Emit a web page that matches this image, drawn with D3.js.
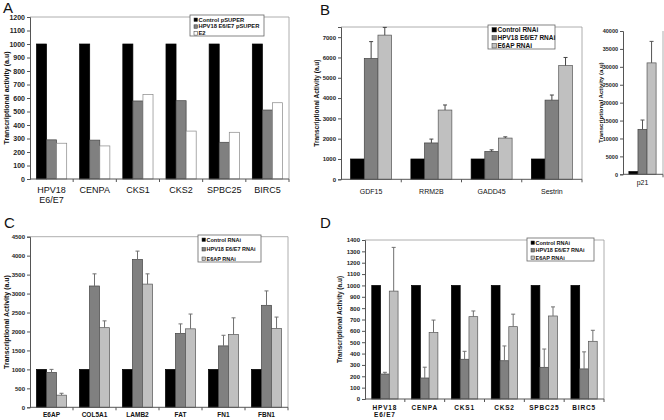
<!DOCTYPE html>
<html>
<head>
<meta charset="utf-8">
<script src="https://cdn.jsdelivr.net/npm/d3@7"></script>
<style>
  body { margin: 0; background: #fff; }
  svg { font-family: "Liberation Sans", Arial, sans-serif; }
</style>
</head>
<body>
<div id="fig"></div>
<script>
// ---- data ----
var aCats = ["HPV18\nE6/E7", "CENPA", "CKS1", "CKS2", "SPBC25", "BIRC5"];
var aSeries = ["Control pSUPER", "HPV18 E6/E7 pSUPER", "E2"];
var aControl = [1000, 1000, 1000, 1000, 1000, 1000];
var aE6E7 = [290, 288, 578, 580, 272, 511];
var aE2 = [265, 245, 627, 355, 346, 565];
var aTicks = [0, 100, 200, 300, 400, 500, 600, 700, 800, 900, 1000, 1100, 1200];

var rnaiSeries = ["Control RNAi", "HPV18 E6/E7 RNAi", "E6AP RNAi"];

var bCats = ["GDF15", "RRM2B", "GADD45", "Sestrin"];
var bControl = [1000, 1000, 1000, 1000];
var bE6E7 = [5950, 1790, 1370, 3900];
var bE6E7Err = [830, 190, 80, 250];
var bE6AP = [7100, 3410, 2030, 5600];
var bE6APErr = [380, 250, 60, 400];
var bTicks = [0, 1000, 2000, 3000, 4000, 5000, 6000, 7000];

var pCats = ["p21"];
var pControl = [750];
var pE6E7 = [12550];
var pE6E7Err = [2600];
var pE6AP = [31100];
var pE6APErr = [6000];
var pTicks = [0, 5000, 10000, 15000, 20000, 25000, 30000, 35000, 40000];

var cCats = ["E6AP", "COL5A1", "LAMB2", "FAT", "FN1", "FBN1"];
var cControl = [1000, 1000, 1000, 1000, 1000, 1000];
var cE6E7 = [920, 3200, 3900, 1950, 1620, 2690];
var cE6E7Err = [80, 320, 220, 250, 280, 380];
var cE6AP = [320, 2100, 3250, 2070, 1920, 2080];
var cE6APErr = [50, 180, 270, 390, 440, 300];
var cTicks = [0, 500, 1000, 1500, 2000, 2500, 3000, 3500, 4000, 4500];

var dCats = ["HPV18\nE6/E7", "CENPA", "CKS1", "CKS2", "SPBC25", "BIRC5"];
var dControl = [1000, 1000, 1000, 1000, 1000, 1000];
var dE6E7 = [220, 185, 350, 337, 279, 265];
var dE6E7Err = [15, 95, 70, 130, 161, 150];
var dE6AP = [950, 585, 725, 637, 731, 508];
var dE6APErr = [385, 110, 50, 110, 80, 97];
var dTicks = [0, 100, 200, 300, 400, 500, 600, 700, 800, 900, 1000, 1100, 1200, 1300, 1400];

var svg = d3.select("#fig").append("svg")
    .attr("width", 664)
    .attr("height", 420);

svg.append("rect").attr("width", 664).attr("height", 420).attr("fill", "#fff");

function drawPanel(cfg) {
  var g = svg.append("g");
  var x = d3.scaleBand().domain(cfg.cats).range([cfg.x0, cfg.x1]);
  var y = d3.scaleLinear().domain([0, cfg.max]).range([cfg.yBot, cfg.yTop]);
  var gw = x.bandwidth() * cfg.frac;
  var inner = d3.scaleBand().domain(d3.range(cfg.series.length)).range([0, gw]);
  var off = (x.bandwidth() - gw) / 2 + (cfg.shift || 0);

  // frame lines
  g.append("line").attr("x1", cfg.x0).attr("x2", cfg.x1).attr("y1", cfg.yTop).attr("y2", cfg.yTop)
    .attr("stroke", cfg.noTop ? "none" : "#999").attr("stroke-width", 0.8);
  g.append("line").attr("x1", cfg.x1).attr("x2", cfg.x1).attr("y1", cfg.yTop).attr("y2", cfg.yBot)
    .attr("stroke", "#999").attr("stroke-width", 0.8);

  // bars
  cfg.series.forEach(function (s, si) {
    g.selectAll(null).data(s.vals).enter().append("rect")
      .attr("x", function (d, i) { return x(cfg.cats[i]) + off + inner(si); })
      .attr("y", function (d) { return y(d); })
      .attr("width", inner.bandwidth())
      .attr("height", function (d) { return cfg.yBot - y(d); })
      .attr("fill", s.fill)
      .attr("stroke", s.stroke)
      .attr("stroke-width", 0.7);

    if (s.err) {
      var eb = g.selectAll(null).data(s.vals).enter().append("g")
        .attr("stroke", cfg.errColor || "#707070").attr("stroke-width", 1);
      eb.append("line")
        .attr("x1", function (d, i) { return x(cfg.cats[i]) + off + inner(si) + inner.bandwidth() / 2; })
        .attr("x2", function (d, i) { return x(cfg.cats[i]) + off + inner(si) + inner.bandwidth() / 2; })
        .attr("y1", function (d) { return y(d); })
        .attr("y2", function (d, i) { return y(d + s.err[i]); });
      eb.append("line")
        .attr("x1", function (d, i) { return x(cfg.cats[i]) + off + inner(si) + inner.bandwidth() / 2 - 2; })
        .attr("x2", function (d, i) { return x(cfg.cats[i]) + off + inner(si) + inner.bandwidth() / 2 + 2; })
        .attr("y1", function (d, i) { return y(d + s.err[i]); })
        .attr("y2", function (d, i) { return y(d + s.err[i]); });
    }
  });

  // y axis
  var ya = g.append("g").attr("transform", "translate(" + cfg.x0 + ",0)")
    .call(d3.axisLeft(y).tickValues(cfg.ticks).tickSize(3).tickPadding(2).tickFormat(d3.format("d")));
  ya.select(".domain").attr("stroke", "#555");
  ya.selectAll(".tick line").attr("stroke", "#555");
  ya.selectAll("text").attr("font-size", cfg.tickFont).attr("font-weight", "bold")
    .attr("fill", "#222").attr("font-family", "Liberation Sans, Arial");

  // x axis
  g.append("line").attr("x1", cfg.x0).attr("x2", cfg.x1).attr("y1", cfg.yBot).attr("y2", cfg.yBot)
    .attr("stroke", "#555");
  g.selectAll(null).data(cfg.cats.slice(1).concat([null])).enter().append("line")
    .attr("x1", function (d) { return d ? x(d) : cfg.x1; })
    .attr("x2", function (d) { return d ? x(d) : cfg.x1; })
    .attr("y1", cfg.yBot).attr("y2", cfg.yBot + 3)
    .attr("stroke", "#555");

  g.selectAll(null).data(cfg.cats).enter().append("text")
    .attr("x", function (d) { return x(d) + x.bandwidth() / 2 + (cfg.shift || 0); })
    .attr("y", cfg.yBot + cfg.xLabDy)
    .attr("text-anchor", "middle")
    .attr("font-size", cfg.xFont)
    .attr("font-weight", cfg.xBold ? "bold" : "normal")
    .attr("letter-spacing", cfg.xSpacing || 0)
    .attr("fill", "#111")
    .each(function (d) {
      var t = d3.select(this);
      d.split("\n").forEach(function (line, li) {
        t.append("tspan").attr("x", t.attr("x")).attr("dy", li ? cfg.xFont * 1.1 : 0).text(line);
      });
    });

  // y label
  g.append("text")
    .attr("transform", "translate(" + cfg.yLabX + "," + ((cfg.yTop + cfg.yBot) / 2) + ") rotate(-90)")
    .attr("text-anchor", "middle")
    .attr("font-size", cfg.yLabFont)
    .attr("font-weight", "bold")
    .attr("fill", "#111")
    .text(cfg.yLab);

  // legend
  if (cfg.legend) {
    var L = cfg.legend;
    var lg = g.append("g");
    lg.append("rect").attr("x", L.x).attr("y", L.y).attr("width", L.w).attr("height", L.h)
      .attr("fill", "#fff").attr("stroke", "#666").attr("stroke-width", 0.8);
    cfg.names.forEach(function (n, i) {
      var ry = L.y + L.pad + i * L.row;
      lg.append("rect").attr("x", L.x + 4).attr("y", ry - L.sq + 0.5).attr("width", L.sq).attr("height", L.sq)
        .attr("fill", cfg.series[i].fill).attr("stroke", "#333").attr("stroke-width", 0.5);
      lg.append("text").attr("x", L.x + 5 + L.sq).attr("y", ry + 0.5)
        .attr("font-size", L.font).attr("font-weight", "bold").attr("fill", "#111").text(n);
    });
  }
}

drawPanel({
  cats: aCats, names: aSeries, x0: 30, x1: 289, yTop: 17, yBot: 179, max: 1200, ticks: aTicks,
  frac: 0.7, tickFont: 7, xFont: 9, xLabDy: 14, xBold: false,
  yLab: "Transcriptional activity (a.u)", yLabX: 9, yLabFont: 7,
  series: [
    { vals: aControl, fill: "#000", stroke: "#000" },
    { vals: aE6E7, fill: "#808080", stroke: "#444" },
    { vals: aE2, fill: "#fff", stroke: "#888" }
  ],
  legend: { x: 190, y: 15, w: 74, h: 21, pad: 6, row: 6.8, sq: 3.5, font: 5.8 }
});

drawPanel({
  cats: bCats, names: rnaiSeries, x0: 341, x1: 582, yTop: 27, yBot: 179.3, max: 7500, ticks: bTicks,
  frac: 0.68, tickFont: 6, xFont: 7, xLabDy: 15, xBold: false, errColor: "#444",
  yLab: "Transcriptional Activity (a.u)", yLabX: 319, yLabFont: 6.5,
  series: [
    { vals: bControl, fill: "#000", stroke: "#000" },
    { vals: bE6E7, err: bE6E7Err, fill: "#808080", stroke: "#444" },
    { vals: bE6AP, err: bE6APErr, fill: "#c0c0c0", stroke: "#555" }
  ],
  legend: { x: 488, y: 25, w: 67, h: 24, pad: 6.5, row: 8, sq: 4.5, font: 6.5 }
});

drawPanel({
  cats: pCats, names: rnaiSeries, x0: 623, x1: 663, yTop: 31, yBot: 174.3, max: 40000, ticks: pTicks,
  frac: 0.68, tickFont: 5.5, xFont: 7, xLabDy: 11, xBold: false, noTop: true, shift: -0.5, errColor: "#555",
  yLab: "Transcriptional Activity (a.u)", yLabX: 603, yLabFont: 6,
  series: [
    { vals: pControl, fill: "#000", stroke: "#000" },
    { vals: pE6E7, err: pE6E7Err, fill: "#808080", stroke: "#444" },
    { vals: pE6AP, err: pE6APErr, fill: "#c0c0c0", stroke: "#555" }
  ]
});

drawPanel({
  cats: cCats, names: rnaiSeries, x0: 30, x1: 288, yTop: 236.7, yBot: 407.3, max: 4500, ticks: cTicks,
  frac: 0.7, tickFont: 6, xFont: 6.5, xLabDy: 10, xBold: true,
  yLab: "Transcriptional Activity (a.u)", yLabX: 9, yLabFont: 7,
  series: [
    { vals: cControl, fill: "#000", stroke: "#000" },
    { vals: cE6E7, err: cE6E7Err, fill: "#808080", stroke: "#444" },
    { vals: cE6AP, err: cE6APErr, fill: "#c0c0c0", stroke: "#555" }
  ],
  legend: { x: 198, y: 235, w: 63, h: 27, pad: 6, row: 9.5, sq: 3.5, font: 5.5 }
});

drawPanel({
  cats: dCats, names: rnaiSeries, x0: 365, x1: 604, yTop: 240, yBot: 399, max: 1400, ticks: dTicks,
  frac: 0.66, tickFont: 6, xFont: 6.5, xLabDy: 11, xBold: true, xSpacing: 0.8,
  yLab: "Transcriptional Activity (a.u)", yLabX: 342, yLabFont: 6.5,
  series: [
    { vals: dControl, fill: "#000", stroke: "#000" },
    { vals: dE6E7, err: dE6E7Err, fill: "#808080", stroke: "#444" },
    { vals: dE6AP, err: dE6APErr, fill: "#c0c0c0", stroke: "#555" }
  ],
  legend: { x: 527, y: 238, w: 67, h: 23, pad: 6, row: 7.5, sq: 3.5, font: 5.5 }
});

// panel letters
[["A", 3, 13], ["B", 320, 15], ["C", 4, 228], ["D", 320, 228]].forEach(function (p) {
  svg.append("text").attr("x", p[1]).attr("y", p[2]).attr("font-size", 15).attr("fill", "#111").text(p[0]);
});
</script>
</body>
</html>
